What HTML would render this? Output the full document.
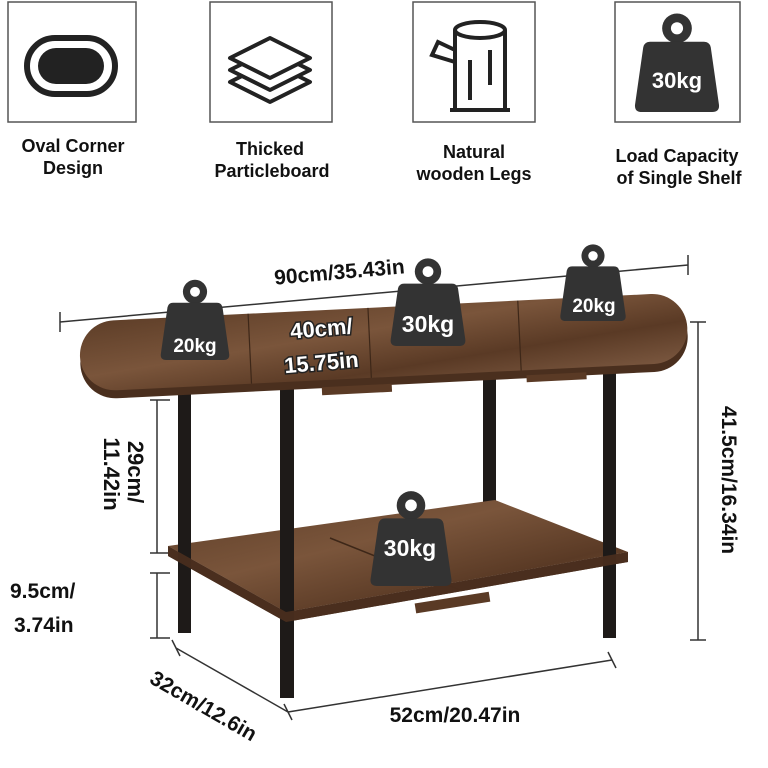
<!DOCTYPE html>
<html><head><style>
body{margin:0;background:#fff;}
svg{display:block}
text{font-family:"Liberation Sans","DejaVu Sans",sans-serif;font-weight:bold;fill:#111}
</style></head><body>
<svg width="768" height="768" viewBox="0 0 768 768" xmlns="http://www.w3.org/2000/svg">
<defs>
<linearGradient id="wood" x1="0" y1="0" x2="1" y2="1">
<stop offset="0" stop-color="#5e3e28"/><stop offset="0.4" stop-color="#7a553b"/><stop offset="0.7" stop-color="#5a3a25"/><stop offset="1" stop-color="#7b5840"/>
</linearGradient>
<g id="kb">
<circle cx="0" cy="-42" r="11" fill="#333"/><circle cx="0" cy="-42" r="4.5" fill="#fff"/>
<path d="M-20,-32 L20,-32 Q24,-32 25,-28 L31,14 Q32,20 26,20 L-26,20 Q-32,20 -31,14 L-25,-28 Q-24,-32 -20,-32Z" fill="#333"/>
</g>
</defs>
<g fill="none" stroke="#555" stroke-width="1.5">
<rect x="8" y="2" width="128" height="120"/>
<rect x="210" y="2" width="122" height="120"/>
<rect x="413" y="2" width="122" height="120"/>
<rect x="615" y="2" width="125" height="120"/>
</g>
<rect x="27" y="38" width="88" height="56" rx="28" fill="none" stroke="#222" stroke-width="6"/>
<rect x="38" y="48" width="66" height="36" rx="18" fill="#222"/>
<g fill="#fff" stroke="#222" stroke-width="4" stroke-linejoin="round">
<path d="M230,82 L270,62 L310,82 L270,102Z"/>
<path d="M230,70 L270,50 L310,70 L270,90Z"/>
<path d="M230,58 L270,38 L310,58 L270,78Z"/>
</g>
<g fill="none" stroke="#222" stroke-width="4">
<ellipse cx="480" cy="30" rx="25" ry="8"/>
<path d="M455,30 L455,110 M505,30 L505,110 M450,110 L510,110 M455,50 L438,42 L432,55 L455,62"/>
<path d="M470,60 L470,100 M490,50 L490,85"/>
</g>
<g transform="translate(677,85)"><use href="#kb" transform="scale(1.35)"/></g>
<text x="677" y="88" font-size="22" text-anchor="middle" style="fill:#fff">30kg</text>
<g font-size="18" text-anchor="middle">
<text x="73" y="152">Oval Corner</text><text x="73" y="174">Design</text>
<text x="270" y="155">Thicked</text><text x="272" y="177">Particleboard</text>
<text x="474" y="158">Natural</text><text x="474" y="180">wooden Legs</text>
<text x="677" y="162">Load Capacity</text><text x="679" y="184">of Single Shelf</text>
</g>
<g stroke="#333" stroke-width="1.5" fill="none">
<path d="M60,322 L688,265 M60,312 L60,332 M688,255 L688,275"/>
<path d="M698,322 L698,640 M690,322 L706,322 M690,640 L706,640"/>
<path d="M157,400 L157,553 M150,400 L170,400 M150,553 L170,553"/>
<path d="M157,573 L157,638 M150,573 L170,573 M150,638 L170,638"/>
<path d="M176,648 L288,712 M172,640 L180,656 M284,704 L292,720 M288,712 L612,660 M608,652 L616,668"/>
</g>
<text x="340" y="279" font-size="21" text-anchor="middle" transform="rotate(-5 340 279)">90cm/35.43in</text>
<text transform="translate(722,480) rotate(90)" font-size="21" text-anchor="middle">41.5cm/16.34in</text>
<text transform="translate(128,472) rotate(90)" font-size="22" text-anchor="middle">29cm/</text>
<text transform="translate(104,474) rotate(90)" font-size="22" text-anchor="middle">11.42in</text>
<text x="10" y="598" font-size="21">9.5cm/</text>
<text x="14" y="632" font-size="21">3.74in</text>
<text transform="translate(200,712) rotate(30)" font-size="21" text-anchor="middle">32cm/12.6in</text>
<text x="455" y="722" font-size="21" text-anchor="middle">52cm/20.47in</text>
<rect x="483" y="360" width="13" height="147" fill="#1e1a18"/>
<path d="M168,556 L286,622 L628,562 L628,552 L286,612 L168,546Z" fill="#4a2f1e"/>
<path d="M168,546 L495,500 L628,552 L286,612Z" fill="url(#wood)"/>
<path d="M330,538 L460,590" stroke="#3d2718" stroke-width="1.5"/>
<rect x="415" y="598" width="75" height="10" fill="#5a3a25" transform="rotate(-9 450 603)"/>
<rect x="178" y="385" width="13" height="248" fill="#1e1a18"/>
<rect x="603" y="350" width="13" height="288" fill="#1e1a18"/>
<rect x="280" y="388" width="14" height="310" fill="#1e1a18"/>
<path d="M168,546 L286,612 L628,552 L628,562 L286,622 L168,556Z" fill="#4a2f1e" opacity="0.9"/>
<g transform="rotate(-2.8 80 357)">
<rect x="80" y="330" width="608" height="70" rx="35" fill="#4a2f1e"/>
<rect x="80" y="322" width="608" height="70" rx="35" fill="url(#wood)"/>
<path d="M250,322 L250,392 M370,322 L370,392 M520,322 L520,392" stroke="#3d2718" stroke-width="1.2"/>
<rect x="320" y="399" width="70" height="8" fill="#5a3a25"/>
<rect x="525" y="397" width="60" height="7" fill="#5a3a25"/>
</g>
<g transform="translate(195,338) scale(1.1)"><use href="#kb"/></g>
<g transform="translate(428,322) scale(1.2)"><use href="#kb"/></g>
<g transform="translate(593,300) scale(1.05)"><use href="#kb"/></g>
<g transform="translate(411,560) scale(1.3)"><use href="#kb"/></g>
<g font-size="19" text-anchor="middle">
<text x="195" y="352" style="fill:#fff">20kg</text>
<text x="428" y="332" font-size="23" style="fill:#fff">30kg</text>
<text x="594" y="312" style="fill:#fff">20kg</text>
<text x="410" y="556" font-size="23" style="fill:#fff">30kg</text>
</g>
<g font-size="22" text-anchor="middle" stroke="#222" stroke-width="3" paint-order="stroke">
<text x="322" y="336" transform="rotate(-5 322 336)" style="fill:#fff">40cm/</text>
<text x="322" y="370" transform="rotate(-5 322 370)" style="fill:#fff">15.75in</text>
</g>
</svg>
</body></html>
